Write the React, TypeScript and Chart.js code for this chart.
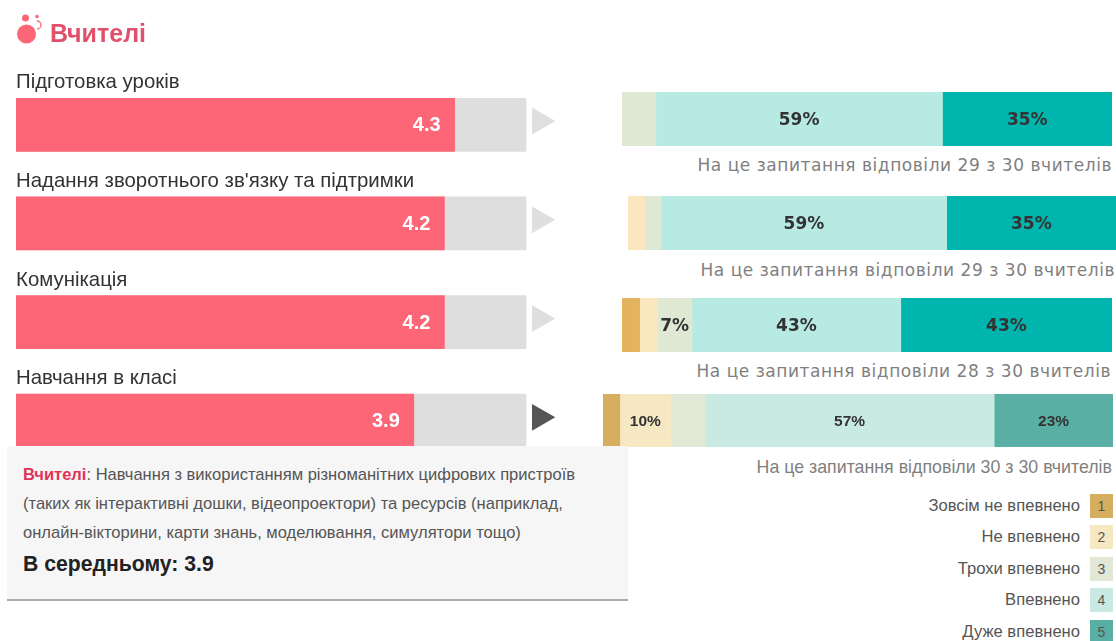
import React, { useEffect, useRef } from "react";
import { Chart, registerables } from "chart.js";

Chart.register(...registerables);

const categories = [
  "Підготовка уроків",
  "Надання зворотнього зв'язку та підтримки",
  "Комунікація",
  "Навчання в класі",
];
const averageScores = [4.3, 4.2, 4.2, 3.9];
const scaleMaximum = [5, 5, 5, 5];
const markerValues = [5.135, 5.135, 5.135, 5.135];
const markerRows = [0, 1, 2, 3];
const markerColors = ["#DFDFDF", "#DFDFDF", "#DFDFDF", "#555555"];

const levelNames = ["Зовсім не впевнено", "Не впевнено", "Трохи впевнено", "Впевнено", "Дуже впевнено"];
const levelNumbers = ["1", "2", "3", "4", "5"];
const brightColors = ["#E4B35F", "#FBE7BE", "#DEE8D3", "#B8EAE4", "#00B5AD"];
const softColors = ["#D6AE60", "#F7E8C4", "#E1E9D6", "#C8EAE3", "#5AAFA5"];

const sharesPreparation = [0, 0, 6.9, 58.5, 34.6];
const sharesFeedback = [0, 3.4, 3.4, 58.5, 34.7];
const sharesCommunication = [3.6, 3.6, 7.1, 42.6, 43.1];
const sharesClassroom = [3.3, 10, 6.7, 56.7, 23.3];

const notes = [
  "На це запитання відповіли 29 з 30 вчителів",
  "На це запитання відповіли 29 з 30 вчителів",
  "На це запитання відповіли 28 з 30 вчителів",
  "На це запитання відповіли 30 з 30 вчителів",
];

const SANS = "'Liberation Sans', Arial, sans-serif";
const WIDE = "'DejaVu Sans', Verdana, sans-serif";

const scoreLabels = {
  id: "scoreLabels",
  afterDatasetsDraw(chart: any) {
    const { ctx } = chart;
    const meta = chart.getDatasetMeta(1);
    ctx.save();
    ctx.fillStyle = "#FFFFFF";
    ctx.font = `bold 20px ${SANS}`;
    ctx.textAlign = "right";
    ctx.textBaseline = "middle";
    meta.data.forEach((el: any, i: number) => {
      ctx.fillText(averageScores[i].toFixed(1), el.x - 14, el.y + 1);
    });
    ctx.restore();
  },
};

function ScoreChart() {
  const ref = useRef<HTMLCanvasElement>(null);
  useEffect(() => {
    const chart = new Chart(ref.current!, {
      type: "bar",
      data: {
        labels: categories,
        datasets: [
          {
            type: "scatter",
            xAxisID: "x",
            yAxisID: "yMarker",
            data: markerRows.map((row, i) => ({ x: markerValues[i], y: row })),
            pointStyle: "triangle",
            rotation: 90,
            pointRadius: 15.5,
            pointBackgroundColor: markerColors,
            pointBorderWidth: 0,
            showLine: false,
            order: 0,
          },
          { xAxisID: "x", yAxisID: "y", data: averageScores, backgroundColor: "#FC6677", barThickness: 53, grouped: false, order: 1 },
          { xAxisID: "x", yAxisID: "y", data: scaleMaximum, backgroundColor: "#DEDEDE", barThickness: 53, grouped: false, order: 2 },
        ],
      } as any,
      options: {
        indexAxis: "y",
        animation: false,
        responsive: false,
        events: [],
        layout: { padding: { left: 8, right: 33.2, top: 75.5, bottom: 171 } },
        plugins: { legend: { display: false }, tooltip: { enabled: false } },
        scales: {
          x: { type: "linear", min: 0, max: 5.4, display: false },
          y: {
            type: "category",
            grid: { display: false },
            border: { display: false },
            ticks: {
              mirror: true,
              padding: 0,
              labelOffset: -42,
              autoSkip: false,
              color: "#333333",
              font: { family: SANS, size: 20.4 },
            },
          },
          yMarker: { type: "linear", axis: "y", min: -0.239, max: 3.311, reverse: true, display: false },
        },
      } as any,
      plugins: [scoreLabels],
    });
    return () => chart.destroy();
  }, []);
  return <canvas ref={ref} width={600} height={641} style={{ position: "absolute", left: 0, top: 0 }} />;
}

function shareLabels(font: string, lift: number) {
  return {
    id: "shareLabels",
    afterDatasetsDraw(chart: any) {
      const { ctx } = chart;
      ctx.save();
      ctx.fillStyle = "#333333";
      ctx.font = font;
      ctx.textAlign = "center";
      ctx.textBaseline = "middle";
      chart.data.datasets.forEach((ds: any, d: number) => {
        const value = ds.data[0];
        if (value === null || value < 7) return;
        const el = chart.getDatasetMeta(d).data[0];
        ctx.fillText(`${Math.round(value)}%`, (el.x + el.base) / 2, el.y + lift);
      });
      ctx.restore();
    },
  };
}

function ShareBar(props: { shares: number[]; colors: string[]; left: number; top: number; width: number; height: number; font: string; lift: number }) {
  const ref = useRef<HTMLCanvasElement>(null);
  useEffect(() => {
    const chart = new Chart(ref.current!, {
      type: "bar",
      data: {
        labels: ["share"],
        datasets: props.shares.map((v, i) => ({
          label: levelNames[i],
          data: [v > 0 ? v : null],
          backgroundColor: props.colors[i],
          barPercentage: 1,
          categoryPercentage: 1,
        })),
      },
      options: {
        indexAxis: "y",
        animation: false,
        responsive: false,
        events: [],
        plugins: { legend: { display: false }, tooltip: { enabled: false } },
        scales: {
          x: { stacked: true, min: 0, max: 100, display: false },
          y: { stacked: true, display: false },
        },
      } as any,
      plugins: [shareLabels(props.font, props.lift)],
    });
    return () => chart.destroy();
  }, []);
  return (
    <canvas
      ref={ref}
      width={props.width}
      height={props.height}
      style={{ position: "absolute", left: props.left, top: props.top }}
    />
  );
}

function Note(props: { text: string; right: number; center: number; font: string; size: number; spacing: number }) {
  return (
    <div
      style={{
        position: "absolute",
        right: 1116 - props.right,
        top: props.center - 12,
        height: 24,
        lineHeight: "24px",
        whiteSpace: "nowrap",
        fontFamily: props.font,
        fontSize: props.size,
        letterSpacing: props.spacing,
        color: "#7F7F7F",
      }}
    >
      {props.text}
    </div>
  );
}

export default function App() {
  return (
    <div
      style={{
        position: "fixed",
        left: 0,
        top: 0,
        width: 1116,
        height: 641,
        overflow: "hidden",
        background: "#fff",
        filter: "blur(0.45px)",
      }}
    >
      <ScoreChart />

      <svg width={48} height={48} style={{ position: "absolute", left: 0, top: 0 }}>
        <circle cx={26.5} cy={34} r={9.5} fill="#FC6677" />
        <circle cx={25.5} cy={18} r={3.5} fill="#FC6677" />
        <circle cx={37} cy={16.5} r={1.8} fill="#FC6677" />
        <path d="M37 21 A4 4 0 0 1 37 29" fill="none" stroke="#FC6677" strokeWidth={1.3} />
      </svg>
      <div
        style={{
          position: "absolute",
          left: 50,
          top: 17,
          lineHeight: "32px",
          fontFamily: SANS,
          fontWeight: 700,
          fontSize: 25,
          color: "#E0506B",
        }}
      >
        Вчителі
      </div>

      <ShareBar shares={sharesPreparation} colors={brightColors} left={622} top={92} width={490} height={54} font={`bold 17px ${WIDE}`} lift={1.5} />
      <ShareBar shares={sharesFeedback} colors={brightColors} left={628} top={196} width={488} height={54} font={`bold 17px ${WIDE}`} lift={1.5} />
      <ShareBar shares={sharesCommunication} colors={brightColors} left={622} top={298} width={490} height={54} font={`bold 17px ${WIDE}`} lift={1.5} />
      <ShareBar shares={sharesClassroom} colors={softColors} left={603} top={394} width={510} height={53} font={`bold 15.5px ${SANS}`} lift={1} />

      <Note text={notes[0]} right={1112} center={165} font={WIDE} size={17} spacing={0.55} />
      <Note text={notes[1]} right={1115} center={270} font={WIDE} size={17} spacing={0.55} />
      <Note text={notes[2]} right={1111} center={371} font={WIDE} size={17} spacing={0.55} />
      <Note text={notes[3]} right={1112} center={467} font={SANS} size={17.8} spacing={0} />

      {levelNames.map((name, i) => (
        <React.Fragment key={name}>
          <div
            style={{
              position: "absolute",
              right: 1116 - 1080,
              top: 493.5 + i * 31.5,
              lineHeight: "24px",
              fontFamily: SANS,
              fontSize: 16.6,
              color: "#555555",
              whiteSpace: "nowrap",
            }}
          >
            {name}
          </div>
          <div
            style={{
              position: "absolute",
              left: 1090,
              top: 493.5 + i * 31.5,
              width: 23,
              height: 24,
              lineHeight: "24px",
              textAlign: "center",
              fontFamily: SANS,
              fontSize: 14,
              color: "#555555",
              background: softColors[i],
            }}
          >
            {levelNumbers[i]}
          </div>
        </React.Fragment>
      ))}

      <div
        style={{
          position: "absolute",
          left: 7,
          top: 446,
          width: 621,
          height: 155,
          boxSizing: "border-box",
          background: "#F6F6F6",
          borderBottom: "2px solid #ABABAB",
          padding: "14px 16px 0",
          fontFamily: SANS,
          color: "#555555",
          fontSize: 16.55,
          lineHeight: "29px",
          whiteSpace: "nowrap",
        }}
      >
        <div>
          <span style={{ color: "#E0335A", fontWeight: 700 }}>Вчителі</span>: Навчання з використанням різноманітних цифрових пристроїв
        </div>
        <div>(таких як інтерактивні дошки, відеопроектори) та ресурсів (наприклад,</div>
        <div>онлайн-вікторини, карти знань, моделювання, симулятори тощо)</div>
        <div style={{ fontSize: 21.2, fontWeight: 700, color: "#222222", marginTop: 2 }}>В середньому: 3.9</div>
      </div>
    </div>
  );
}
